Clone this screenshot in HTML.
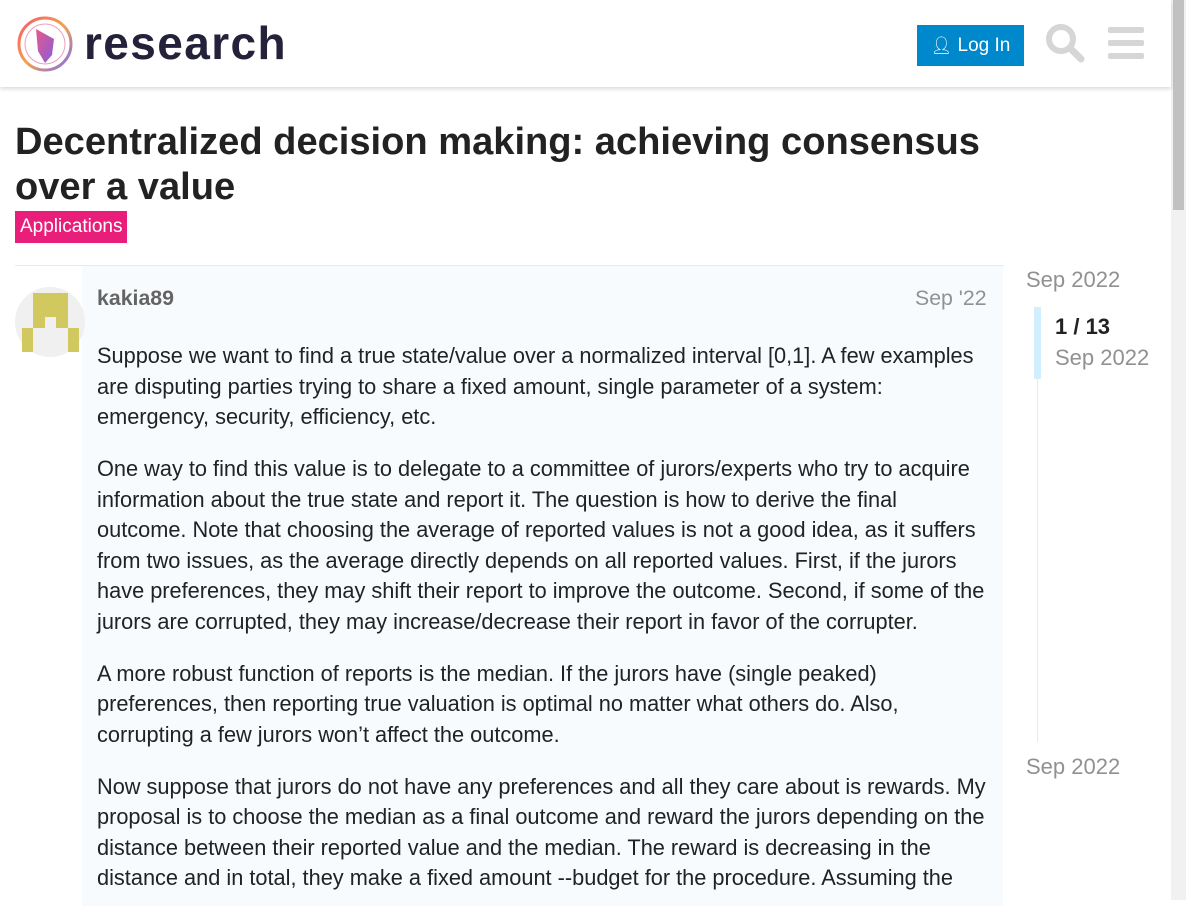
<!DOCTYPE html>
<html><head><meta charset="utf-8"><style>
*{box-sizing:border-box;margin:0;padding:0}
body{width:1186px;height:900px;overflow:hidden;background:#fff;font-family:"Liberation Sans",Arial,sans-serif;color:#222;position:relative}
.header{position:absolute;left:0;top:0;width:1171px;height:87px;background:#fff;box-shadow:0 2px 4px rgba(0,0,0,.15);z-index:2}
.logo-text{position:absolute;left:84px;top:16px;font-size:46px;font-weight:bold;color:#24223a;letter-spacing:1.4px}
.login{position:absolute;left:917px;top:25px;width:107px;height:41px;background:#0088cc;color:#fff;font-size:19px;line-height:41px;text-align:center}
.scroll{position:absolute;left:1171px;top:0;width:15px;height:900px;background:#f1f1f1}
.thumb{position:absolute;left:2px;top:0;width:11px;height:210px;background:#c1c1c1}
h1{position:absolute;left:15px;top:120px;font-size:38.1px;line-height:45px;font-weight:bold;color:#222;white-space:nowrap}
.cat{position:absolute;left:15px;top:211px;height:32px;padding:0 5px;background:#e91e7b;color:#fff;font-size:19px;line-height:32px}
.topline{position:absolute;left:15px;top:265px;width:989px;height:1px;background:#e9e9e9}
.post{position:absolute;left:82px;top:266px;width:921px;height:640px;background:#f7fbfe}
.user{position:absolute;left:97px;top:286px;font-size:21.3px;font-weight:bold;color:#646464}
.date{position:absolute;left:915px;top:286px;font-size:21.3px;color:#919191}
.body{position:absolute;left:97px;top:341px;width:900px;font-size:21.75px;line-height:30.5px;color:#222}
.body p{margin-bottom:21.5px;white-space:nowrap}
.tl{position:absolute;color:#919191;font-size:22px}
</style></head><body>
<div class="header">
<svg style="position:absolute;left:16px;top:15px" width="58" height="58" viewBox="0 0 58 58">
<defs><linearGradient id="g" x1="0" y1="0" x2="1" y2="1"><stop offset="0" stop-color="#f5576c"/><stop offset=".5" stop-color="#f6a24a"/><stop offset="1" stop-color="#7a6cf0"/></linearGradient>
<linearGradient id="g2" x1="0" y1="0" x2="1" y2="1"><stop offset="0" stop-color="#e65a8c"/><stop offset="1" stop-color="#8a5cd8"/></linearGradient></defs>
<circle cx="29" cy="29" r="26" fill="none" stroke="url(#g)" stroke-width="3"/>
<circle cx="29" cy="29" r="20" fill="none" stroke="#e8a0c0" stroke-width="1"/>
<path d="M20 14 L38 24 L36 40 L29 48 L22 36 Z" fill="url(#g2)"/>
</svg>
<div class="logo-text">research</div>
<div class="login"><span style="font-size:17px">&#128100;&#xFE0E;</span> Log In</div>
<svg style="position:absolute;left:1045px;top:23px" width="40" height="40" viewBox="0 0 40 40"><circle cx="16" cy="16" r="12" fill="none" stroke="#d6d6d6" stroke-width="6"/><line x1="25" y1="25" x2="36" y2="36" stroke="#d6d6d6" stroke-width="7" stroke-linecap="round"/></svg>
<svg style="position:absolute;left:1108px;top:27px" width="36" height="32"><rect x="0" y="0" width="36" height="6" rx="2" fill="#d6d6d6"/><rect x="0" y="13" width="36" height="6" rx="2" fill="#d6d6d6"/><rect x="0" y="26" width="36" height="6" rx="2" fill="#d6d6d6"/></svg>
</div>
<div class="scroll"><div class="thumb"></div></div>
<h1>Decentralized decision making: achieving consensus<br>over a value</h1>
<div class="cat">Applications</div>
<div class="topline"></div>
<div class="post"></div>
<svg style="position:absolute;left:15px;top:287px" width="70" height="70" viewBox="0 0 70 70">
<circle cx="35" cy="35" r="35" fill="#f0f0f0"/>
<g fill="#d2c860"><rect x="18" y="6" width="35" height="24"/><rect x="18" y="30" width="12" height="11"/><rect x="41" y="30" width="12" height="11"/><rect x="7" y="41" width="11" height="24"/><rect x="53" y="41" width="11" height="24"/></g>
</svg>
<div class="user">kakia89</div>
<div class="date">Sep '22</div>
<div class="body">
<p>Suppose we want to find a true state/value over a normalized interval [0,1]. A few examples<br>are disputing parties trying to share a fixed amount, single parameter of a system:<br>emergency, security, efficiency, etc.</p>
<p>One way to find this value is to delegate to a committee of jurors/experts who try to acquire<br>information about the true state and report it. The question is how to derive the final<br>outcome. Note that choosing the average of reported values is not a good idea, as it suffers<br>from two issues, as the average directly depends on all reported values. First, if the jurors<br>have preferences, they may shift their report to improve the outcome. Second, if some of the<br>jurors are corrupted, they may increase/decrease their report in favor of the corrupter.</p>
<p>A more robust function of reports is the median. If the jurors have (single peaked)<br>preferences, then reporting true valuation is optimal no matter what others do. Also,<br>corrupting a few jurors won’t affect the outcome.</p>
<p>Now suppose that jurors do not have any preferences and all they care about is rewards. My<br>proposal is to choose the median as a final outcome and reward the jurors depending on the<br>distance between their reported value and the median. The reward is decreasing in the<br>distance and in total, they make a fixed amount --budget for the procedure. Assuming the</p>
</div>
<div class="tl" style="left:1026px;top:267px">Sep 2022</div>
<div style="position:absolute;left:1034px;top:307px;width:7px;height:72px;background:#d1f0ff"></div>
<div style="position:absolute;left:1037px;top:379px;width:1px;height:363px;background:#e9e9e9"></div>
<div style="position:absolute;left:1055px;top:314px;font-size:22px;font-weight:bold;color:#222">1 / 13</div>
<div class="tl" style="left:1055px;top:345px">Sep 2022</div>
<div class="tl" style="left:1026px;top:754px">Sep 2022</div>
</body></html>
